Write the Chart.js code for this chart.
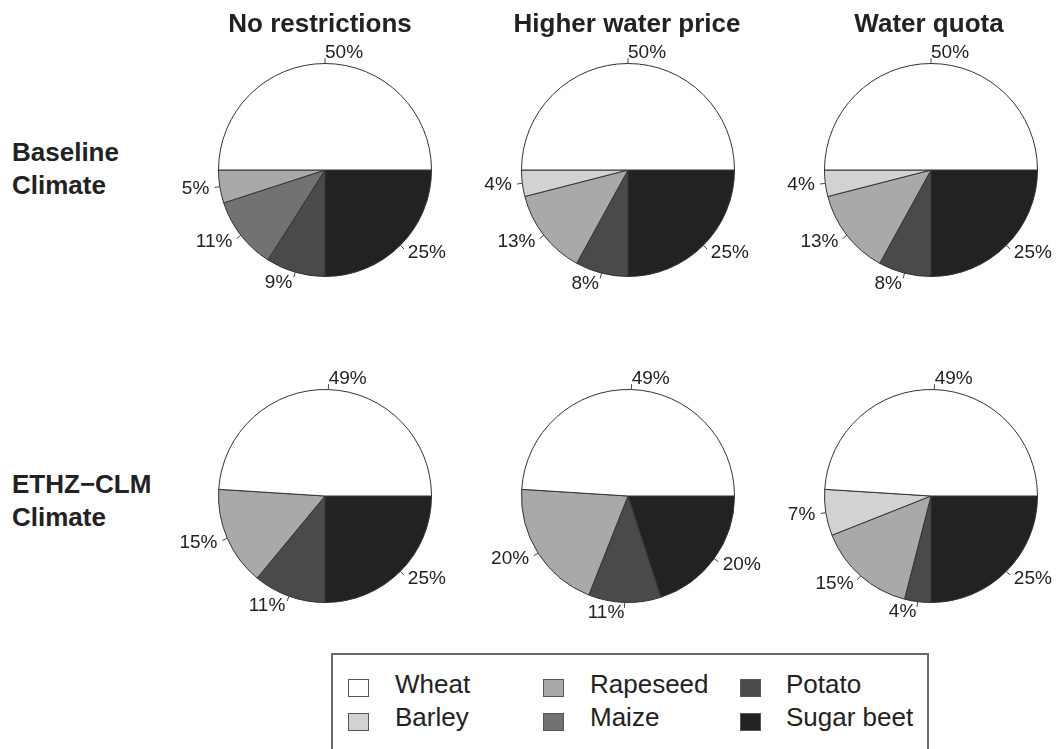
<!DOCTYPE html>
<html>
<head>
<meta charset="utf-8">
<script src="https://cdn.jsdelivr.net/npm/chart.js@4"></script>
<style>
  body { margin: 0; background: #fff; font-family: "Liberation Sans", Arial, sans-serif; color: #222; }
  #stage { position: relative; width: 1057px; height: 749px; overflow: hidden; }
  .pie { position: absolute; }
  .title { position: absolute; font-weight: bold; font-size: 26px; line-height: 26px; white-space: nowrap; transform: translateX(-50%); }
  .rowlab { position: absolute; left: 12px; font-weight: bold; font-size: 26px; line-height: 33px; }
  #legend { position: absolute; left: 331px; top: 653px; width: 598px; height: 120px; border: 2px solid #6a6a6a; box-sizing: border-box; }
  .lg-box { position: absolute; width: 19px; height: 16px; border: 1px solid #555; }
  .lg-txt { position: absolute; font-size: 26px; line-height: 33px; white-space: nowrap; }
</style>
</head>
<body>
<div id="stage"></div>
<script>
// ── data ──
const crops = ["Wheat", "Barley", "Rapeseed", "Maize", "Potato", "Sugar beet"];
const cropColors = ["#ffffff", "#d2d2d2", "#a9a9a9", "#727272", "#4a4a4a", "#222222"];
const scenarios = ["No restrictions", "Higher water price", "Water quota"];
const climates = [["Baseline", "Climate"], ["ETHZ\u2212CLM", "Climate"]];

// shares in % (Wheat, Barley, Rapeseed, Maize, Potato, Sugar beet)
const baseNoRestr = [50, 0, 5, 11, 9, 25];
const baseWaterPrice = [50, 4, 13, 0, 8, 25];
const baseWaterQuota = [50, 4, 13, 0, 8, 25];
const ethzNoRestr = [49, 0, 15, 0, 11, 25];
const ethzWaterPrice = [49, 0, 20, 0, 11, 20];
const ethzWaterQuota = [49, 7, 15, 0, 4, 25];

const grid = [
  [baseNoRestr, baseWaterPrice, baseWaterQuota],
  [ethzNoRestr, ethzWaterPrice, ethzWaterQuota],
];

// ── layout ──
const colX = [325, 628, 931];
const rowY = [170, 496];
const titleX = [320, 627, 929];
const R = 107;
const CW = 330, CH = 270;

const stage = document.getElementById("stage");

// percentage labels like R's pie(): tick from r to 1.05r, text at 1.1r
const pieLabels = {
  id: "pieLabels",
  afterDatasetsDraw(chart) {
    const ctx = chart.ctx;
    const meta = chart.getDatasetMeta(0);
    const vals = chart.data.datasets[0].data;
    ctx.save();
    ctx.font = "19px 'Liberation Sans', Arial, sans-serif";
    ctx.fillStyle = "#222";
    ctx.strokeStyle = "#444";
    ctx.lineWidth = 1;
    ctx.textBaseline = "middle";
    meta.data.forEach((arc, i) => {
      if (!vals[i]) return;
      const p = arc.getProps(["x", "y", "startAngle", "endAngle", "outerRadius"], true);
      const a = (p.startAngle + p.endAngle) / 2;
      const c = Math.cos(a), s = Math.sin(a);
      const r = p.outerRadius;
      ctx.beginPath();
      ctx.moveTo(p.x + c * r, p.y + s * r);
      ctx.lineTo(p.x + c * r * 1.05, p.y + s * r * 1.05);
      ctx.stroke();
      ctx.textAlign = c < -1e-6 ? "right" : "left";
      ctx.fillText(vals[i] + "%", p.x + c * r * 1.1, p.y + s * r * 1.1);
    });
    ctx.restore();
  },
};

function makePie(values, cx, cy) {
  const cv = document.createElement("canvas");
  cv.className = "pie";
  cv.width = CW;
  cv.height = CH;
  cv.style.left = cx - CW / 2 + "px";
  cv.style.top = cy - CH / 2 + "px";
  stage.appendChild(cv);
  // R draws counter-clockwise from 3 o'clock; Chart.js goes clockwise, so reverse
  const order = crops.map((_, i) => i).reverse();
  new Chart(cv.getContext("2d"), {
    type: "pie",
    data: {
      labels: order.map((i) => crops[i]),
      datasets: [{
        data: order.map((i) => values[i]),
        backgroundColor: order.map((i) => cropColors[i]),
        borderColor: "#333",
        borderWidth: 1,
      }],
    },
    options: {
      responsive: false,
      animation: false,
      rotation: 90,
      layout: { padding: { left: (CW - 2 * R) / 2, right: (CW - 2 * R) / 2, top: (CH - 2 * R) / 2, bottom: (CH - 2 * R) / 2 } },
      plugins: { legend: { display: false }, tooltip: { enabled: false } },
    },
    plugins: [pieLabels],
  });
}

grid.forEach((row, r) => row.forEach((vals, c) => makePie(vals, colX[c], rowY[r])));

// column titles
scenarios.forEach((s, c) => {
  const d = document.createElement("div");
  d.className = "title";
  d.textContent = s;
  d.style.left = titleX[c] + "px";
  d.style.top = "10px";
  stage.appendChild(d);
});

// row labels
const rowLabTop = [136, 468];
climates.forEach((lines, r) => {
  const d = document.createElement("div");
  d.className = "rowlab";
  d.innerHTML = lines.join("<br>");
  d.style.top = rowLabTop[r] + "px";
  stage.appendChild(d);
});

// legend
const legend = document.createElement("div");
legend.id = "legend";
stage.appendChild(legend);
const lgBoxX = [15, 210, 407];
const lgTxtX = [62, 257, 453];
crops.forEach((name, i) => {
  const col = Math.floor(i / 2), row = i % 2;
  const b = document.createElement("div");
  b.className = "lg-box";
  b.style.background = cropColors[i];
  b.style.left = lgBoxX[col] + "px";
  b.style.top = 24 + row * 34 + "px";
  legend.appendChild(b);
  const t = document.createElement("div");
  t.className = "lg-txt";
  t.textContent = name;
  t.style.left = lgTxtX[col] + "px";
  t.style.top = 13 + row * 33 + "px";
  legend.appendChild(t);
});
</script>
</body>
</html>
